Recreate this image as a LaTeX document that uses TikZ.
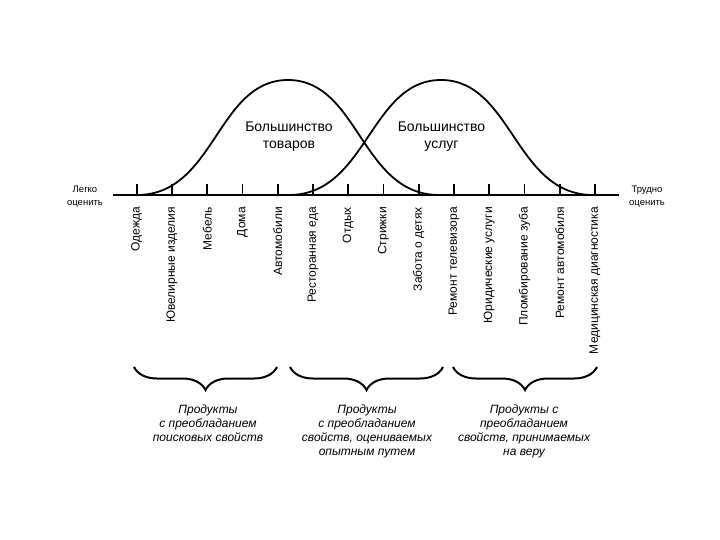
\documentclass[tikz,border=0pt]{standalone}
\usepackage{fontspec}
\setmainfont{Liberation Sans}
\usetikzlibrary{decorations.pathreplacing}

\begin{document}
\begin{tikzpicture}[x=1pt, y=-1pt,
  axisline/.style={line width=2.6pt},
  tickmark/.style={line width=1.8pt},
  bell/.style={line width=1.8pt},
  grpbrace/.style={line width=2pt, decorate, decoration={brace, amplitude=23pt}},
  itemlabel/.style={rotate=90, anchor=east, inner sep=0pt, font=\fontsize{12}{14}\selectfont},
  endlabel/.style={align=center, inner sep=0pt, font=\fontsize{9.5}{13}\selectfont},
  bigtext/.style={align=center, inner sep=0pt, font=\fontsize{14}{17}\selectfont},
  grptext/.style={align=center, inner sep=0pt, anchor=north, font=\fontsize{12}{14}\selectfont\itshape}]
  \useasboundingbox (0,0) rectangle (720,540);

  % two bells
  \draw[bell] (137,195) .. controls (215,195) and (217,80) .. (288,80)
    .. controls (359,80) and (361,195) .. (439,195);
  \draw[bell] (289,195) .. controls (367,195) and (370,80) .. (441,80)
    .. controls (512,80) and (515,195) .. (593,195);
  \node[bigtext] (goods) at (289,137) {Большинство\\товаров};
  \node[bigtext] (services) at (441.5,137) {Большинство\\услуг};

  % scale
  \draw[axisline] (113,195) -- (619,195);
  \foreach \i in {0,...,13}
    \draw[tickmark] ({136.7+35.25*\i},184) -- ({136.7+35.25*\i},195);
  \node[endlabel] (easy) at (85,196.5) {Легко\\оценить};
  \node[endlabel] (hard) at (647,196.5) {Трудно\\оценить};

  \foreach \t [count=\i from 0] in {Одежда, Ювелирные изделия, Мебель, Дома,
      Автомобили, Ресторанная еда, Отдых, Стрижки, Забота о детях,
      Ремонт телевизора, Юридические услуги, Пломбирование зуба,
      Ремонт автомобиля, Медицинская диагностика}
    \node[itemlabel] (item\i) at ({136.7+35.25*\i},207) {\t};

  % groups
  \draw[grpbrace] (277,367) -- (134,367);
  \draw[grpbrace] (443,367) -- (290,367);
  \draw[grpbrace] (597,367) -- (453,367);
  \node[grptext] (search) at (208,404.5) {Продукты\\с преобладанием\\поисковых свойств};
  \node[grptext] (experience) at (367,404.5) {Продукты\\с преобладанием\\свойств, оцениваемых\\опытным путем};
  \node[grptext] (credence) at (524,404.5) {Продукты с\\преобладанием\\свойств, принимаемых\\на веру};
\end{tikzpicture}
\end{document}
